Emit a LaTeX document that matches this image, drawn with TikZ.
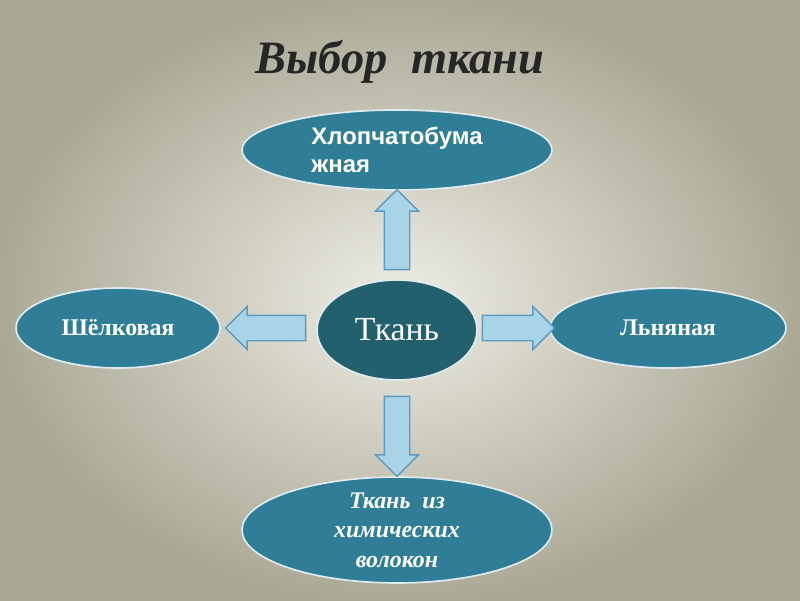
\documentclass[tikz,border=0pt]{standalone}
\usepackage{fontspec}
\setmainfont{Liberation Serif}
\setsansfont{Liberation Sans}
\usetikzlibrary{shapes.geometric,shapes.arrows}
\definecolor{kindfill}{HTML}{2F7D96}
\definecolor{corefill}{HTML}{22606E}
\definecolor{arrowfill}{HTML}{A9D3E6}
\definecolor{arrowline}{HTML}{5B9BC4}
\definecolor{bginner}{HTML}{EEEDE4}
\definecolor{bgouter}{HTML}{ABA996}
\begin{document}
\begin{tikzpicture}
    \tikzstyle{kind}=[ellipse,draw=white!85!kindfill,line width=1.2pt,fill=kindfill,text=white,font=\bfseries\fontsize{17}{20}\selectfont,align=center,inner sep=0pt]
    \tikzstyle{blockarrow}=[single arrow,draw=arrowline,fill=arrowfill,line width=1pt,inner sep=0.3cm,single arrow head extend=0.22cm,single arrow head indent=0cm]

    \useasboundingbox[inner color=bginner,outer color=bgouter] (0,0) rectangle (20,15);

    \node[font=\bfseries\itshape\fontsize{33}{38}\selectfont,text=black!85] (title) at (10,13.45) {Выбор\ \ ткани} ;

    \node[kind,fill=corefill,minimum width=4cm,minimum height=2.5cm,font=\fontsize{24}{28}\selectfont] (fabric) at (9.925,6.75) {Ткань} ;
    \node[kind,minimum width=7.75cm,minimum height=2cm,font=\sffamily\bfseries\fontsize{17}{20}\selectfont,align=left] (cotton) at (9.925,11.25) {Хлопчатобума\\жная} ;
    \node[kind,minimum width=5.1cm,minimum height=2cm] (silk) at (2.95,6.8) {Шёлковая} ;
    \node[kind,minimum width=5.9cm,minimum height=2cm] (linen) at (16.7,6.8) {Льняная} ;
    \node[kind,minimum width=7.75cm,minimum height=2.5cm,font=\bfseries\itshape\fontsize{17}{21}\selectfont] (chem) at (9.925,1.75) {Ткань\ \ из\\химических\\волокон} ;

    \node[blockarrow,minimum height=2cm,shape border rotate=90] (toCotton) at (9.925,9.1) {} ;
    \node[blockarrow,minimum height=2cm,shape border rotate=180] (toSilk) at (6.8,6.8) {} ;
    \node[blockarrow,minimum height=1.8cm] (toLinen) at (12.8,6.8) {} ;
    \node[blockarrow,minimum height=2cm,shape border rotate=270] (toChem) at (9.925,4.25) {} ;
\end{tikzpicture}
\end{document}
